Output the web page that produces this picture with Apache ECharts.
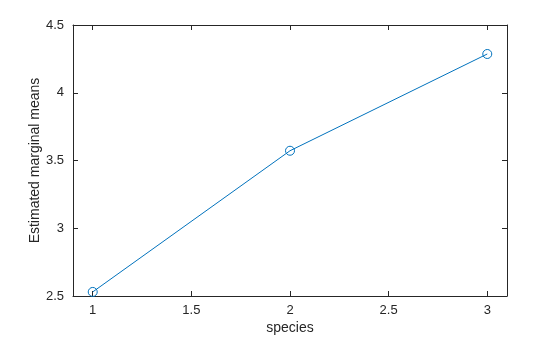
<!DOCTYPE html>
<html><head><meta charset="utf-8">
<script src="https://cdn.jsdelivr.net/npm/echarts@6/dist/echarts.min.js"></script>
<style>html,body{margin:0;padding:0;background:#fff}#c{width:560px;height:337px}</style>
</head><body><div id="c"></div>
<script>
const speciesX = [1, 2, 3];
const marginalMeans = [2.53, 3.572, 4.286];
const xTicks = [1, 1.5, 2, 2.5, 3];
const yTicks = [2.5, 3, 3.5, 4, 4.5];
const xTitle = 'species';
const yTitle = 'Estimated marginal means';

const font = 'Liberation Sans, Arial, sans-serif';
const axisBase = {
  type: 'value',
  axisLine: {show: true, lineStyle: {color: '#262626', width: 1}},
  axisTick: {show: true, inside: true, length: 5, lineStyle: {color: '#262626'}},
  splitLine: {show: false}
};
const chart = echarts.init(document.getElementById('c'), null, {renderer: 'canvas'});
chart.setOption({
  animation: false,
  grid: {left: 73, right: 53, top: 25, bottom: 41, containLabel: false, outerBoundsMode: 'none'},
  xAxis: [
    Object.assign({}, axisBase, {
      position: 'bottom', min: 0.9, max: 3.1,
      name: xTitle, nameLocation: 'middle', nameGap: 25, nameMoveOverlap: false,
      nameTextStyle: {fontFamily: font, fontSize: 14, color: '#262626'},
      axisTick: Object.assign({}, axisBase.axisTick, {customValues: xTicks}),
      axisLabel: {customValues: xTicks, margin: 8, fontFamily: font, fontSize: 13, color: '#262626'}
    }),
    Object.assign({}, axisBase, {
      position: 'top', min: 0.9, max: 3.1,
      axisTick: Object.assign({}, axisBase.axisTick, {customValues: xTicks}),
      axisLabel: {show: false, customValues: xTicks}
    })
  ],
  yAxis: [
    Object.assign({}, axisBase, {
      position: 'left', min: 2.5, max: 4.5,
      name: yTitle, nameLocation: 'middle', nameGap: 31, nameRotate: 90, nameMoveOverlap: false,
      nameTextStyle: {fontFamily: font, fontSize: 14, color: '#262626'},
      axisTick: Object.assign({}, axisBase.axisTick, {customValues: yTicks}),
      axisLabel: {customValues: yTicks, margin: 9, fontFamily: font, fontSize: 13, color: '#262626'}
    }),
    Object.assign({}, axisBase, {
      position: 'right', min: 2.5, max: 4.5,
      axisTick: Object.assign({}, axisBase.axisTick, {customValues: yTicks}),
      axisLabel: {show: false, customValues: yTicks}
    })
  ],
  series: [{
    type: 'line',
    data: speciesX.map((x, i) => [x, marginalMeans[i]]),
    symbol: 'circle', symbolSize: 9,
    showAllSymbol: true,
    lineStyle: {color: '#0072BD', width: 1},
    itemStyle: {color: 'rgba(0,0,0,0)', borderColor: '#0072BD', borderWidth: 1},
    emphasis: {disabled: true},
    z: 3,
    clip: false
  }]
});
</script></body></html>
